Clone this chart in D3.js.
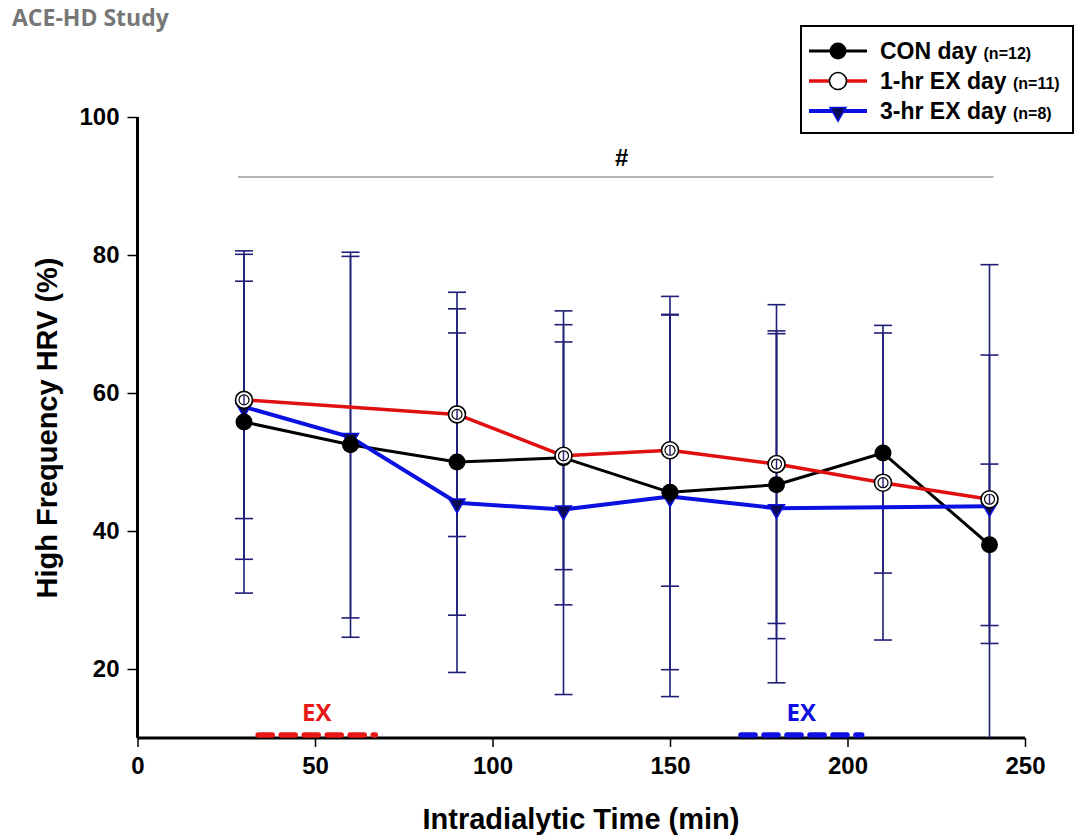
<!DOCTYPE html>
<html>
<head>
<meta charset="utf-8">
<script src="https://cdn.jsdelivr.net/npm/d3@7"></script>
<style>
  html, body { margin: 0; padding: 0; background: #fff; }
  svg { display: block; }
</style>
</head>
<body>
<svg id="chart" width="1078" height="837"></svg>
<script>
// Intradialytic time points (min)
const times = [30, 60, 90, 120, 150, 180, 210, 240];

// Mean high-frequency HRV (%) and SD for each session type (null = not measured)
const conMean = [55.8, 52.5, 50.0, 50.6, 45.6, 46.7, 51.3, 38.0];
const conSD   = [24.8, 27.9, 22.2, 21.3, 25.7, 22.3, 17.4, 11.7];
const ex1Mean = [59.0, null, 56.9, 50.9, 51.7, 49.7, 47.0, 44.6];
const ex1SD   = [17.2, null, 17.7, 16.5, 19.7, 23.1, 22.8, 20.9];
const ex3Mean = [58.0, 53.6, 44.1, 43.1, 45.0, 43.3, null, 43.6];
const ex3SD   = [22.1, 26.2, 24.6, 26.8, 29.0, 25.3, null, 35.0];

// Axis ticks
const xTicks = [0, 50, 100, 150, 200, 250];
const yTicks = [20, 40, 60, 80, 100];

// Exercise periods drawn along the time axis (min)
const ex1Period = [34, 67];
const ex3Period = [170, 204];

// Significance bracket
const sigSpan = [30, 240];
const sigLevel = 91.3;

const svg = d3.select("#chart");
const x = d3.scaleLinear().domain([0, 250]).range([137.5, 1025]);
const y = d3.scaleLinear().domain([10, 100]).range([738, 117]);

const navy = "#1f1f78";
const tickFont = "bold 24px 'Liberation Sans', Arial, sans-serif";
const titleFont = "bold 29px 'Liberation Sans', Arial, sans-serif";

// Header
svg.append("text")
  .attr("x", 12).attr("y", 26)
  .style("font", "bold 23px 'Open Sans', sans-serif")
  .attr("fill", "#777")
  .text("ACE-HD Study");

// Axes
const xAxis = svg.append("g")
  .attr("transform", `translate(0,${y(10)})`)
  .call(d3.axisBottom(x).tickValues(xTicks).tickSize(9).tickPadding(10));
const yAxis = svg.append("g")
  .attr("transform", `translate(${x(0)},0)`)
  .call(d3.axisLeft(y).tickValues(yTicks).tickSize(10).tickPadding(8));

[xAxis, yAxis].forEach(g => {
  g.select(".domain").attr("stroke", "#000").attr("stroke-width", 3);
  g.selectAll(".tick line").attr("stroke", "#000").attr("stroke-width", 1.5);
  g.selectAll(".tick text").style("font", tickFont).attr("fill", "#000");
});
xAxis.select(".domain").attr("d", `M${x(0)},0H${x(250)}`);
yAxis.select(".domain").attr("d", `M0,${y(100)}V${y(10)}`);

// Axis titles
svg.append("text")
  .attr("x", 581).attr("y", 829)
  .attr("text-anchor", "middle")
  .style("font", titleFont)
  .text("Intradialytic Time (min)");
svg.append("text")
  .attr("transform", "translate(57,428) rotate(-90)")
  .attr("text-anchor", "middle")
  .style("font", titleFont)
  .text("High Frequency HRV (%)");

// Significance line
svg.append("line")
  .attr("x1", x(sigSpan[0]) - 6).attr("x2", x(sigSpan[1]) + 4)
  .attr("y1", y(sigLevel)).attr("y2", y(sigLevel))
  .attr("stroke", "#9a9a9a").attr("stroke-width", 1.5);
svg.append("text")
  .attr("x", x((sigSpan[0] + sigSpan[1]) / 2) + 5).attr("y", y(sigLevel) - 11)
  .attr("text-anchor", "middle")
  .style("font", "bold 24px 'Liberation Sans', Arial, sans-serif")
  .text("#");

const series = [
  { mean: conMean, sd: conSD, color: "#000", width: 3 },
  { mean: ex1Mean, sd: ex1SD, color: "#e01010", width: 3.5 },
  { mean: ex3Mean, sd: ex3SD, color: "#0a10e0", width: 4 }
];

function pts(s) {
  return times.map((t, i) => ({ t, m: s.mean[i], sd: s.sd[i] })).filter(d => d.m != null);
}

// Error bars (clipped to the plotting range)
const eb = svg.append("g");
series.forEach(s => {
  pts(s).forEach(d => {
    const hi = d.m + d.sd, lo = Math.max(10, d.m - d.sd);
    eb.append("line")
      .attr("x1", x(d.t)).attr("x2", x(d.t))
      .attr("y1", y(hi)).attr("y2", y(lo))
      .attr("stroke", navy).attr("stroke-width", 1.6);
    [hi, d.m - d.sd].forEach(v => {
      if (v < 10) return;
      eb.append("line")
        .attr("x1", x(d.t) - 9).attr("x2", x(d.t) + 9)
        .attr("y1", y(v)).attr("y2", y(v))
        .attr("stroke", navy).attr("stroke-width", 1.6);
    });
  });
});

// Series lines
const line = d3.line().x(d => x(d.t)).y(d => y(d.m));
series.forEach(s => {
  svg.append("path")
    .datum(pts(s))
    .attr("d", line)
    .attr("fill", "none")
    .attr("stroke", s.color)
    .attr("stroke-width", s.width)
    .attr("stroke-linejoin", "round");
});

// Markers
const tri = d3.symbol().type(d3.symbolTriangle).size(110);
function drawMarker(g, kind, cx, cy, inner) {
  if (kind === 0) {
    g.append("circle").attr("cx", cx).attr("cy", cy).attr("r", 8.5).attr("fill", "#000");
  } else if (kind === 1) {
    g.append("circle").attr("cx", cx).attr("cy", cy).attr("r", 8.5)
      .attr("fill", "#fff").attr("stroke", "#000").attr("stroke-width", 1.6);
    if (inner) {
      g.append("circle").attr("cx", cx).attr("cy", cy).attr("r", 5)
        .attr("fill", "none").attr("stroke", "#000").attr("stroke-width", 1.2);
      g.append("line").attr("x1", cx).attr("x2", cx).attr("y1", cy - 5).attr("y2", cy + 5)
        .attr("stroke", navy).attr("stroke-width", 1.4);
    }
  } else {
    g.append("path").attr("d", tri)
      .attr("transform", `translate(${cx},${cy + 1}) rotate(180)`)
      .attr("fill", "#0b0b55").attr("stroke", "#0a10e0").attr("stroke-width", 1.5);
  }
}
const mk = svg.append("g");
[2, 0, 1].forEach(k => {
  pts(series[k]).forEach(d => drawMarker(mk, k, x(d.t), y(d.m), true));
});

// Exercise periods
const exDefs = [
  { span: ex1Period, color: "#e81818" },
  { span: ex3Period, color: "#1010e0" }
];
exDefs.forEach(e => {
  svg.append("line")
    .attr("x1", x(e.span[0])).attr("x2", x(e.span[1]))
    .attr("y1", y(10) - 3).attr("y2", y(10) - 3)
    .attr("stroke", e.color).attr("stroke-width", 5.5)
    .attr("stroke-linecap", "round")
    .attr("stroke-dasharray", "14,9");
  svg.append("text")
    .attr("x", x((e.span[0] + e.span[1]) / 2)).attr("y", y(10) - 17)
    .attr("text-anchor", "middle")
    .style("font", "bold 24px 'Open Sans', sans-serif")
    .attr("fill", e.color)
    .text("EX");
});

// Legend
const lg = svg.append("g");
lg.append("rect")
  .attr("x", 801).attr("y", 26).attr("width", 272).attr("height", 107)
  .attr("fill", "#fff").attr("stroke", "#000").attr("stroke-width", 2);
const legendItems = [
  { label: "CON day", n: "(n=12)" },
  { label: "1-hr EX day", n: "(n=11)" },
  { label: "3-hr EX day", n: "(n=8)" }
];
legendItems.forEach((it, i) => {
  const ly = 51 + i * 30;
  lg.append("line")
    .attr("x1", 809).attr("x2", 867).attr("y1", ly).attr("y2", ly)
    .attr("stroke", series[i].color).attr("stroke-width", series[i].width);
  drawMarker(lg, i, 838, ly, false);
  const t = lg.append("text")
    .attr("x", 880).attr("y", ly + 8)
    .style("font", "bold 23px 'Liberation Sans', Arial, sans-serif");
  t.append("tspan").text(it.label + " ");
  t.append("tspan").style("font-size", "16px").text(it.n);
});
</script>
</body>
</html>
